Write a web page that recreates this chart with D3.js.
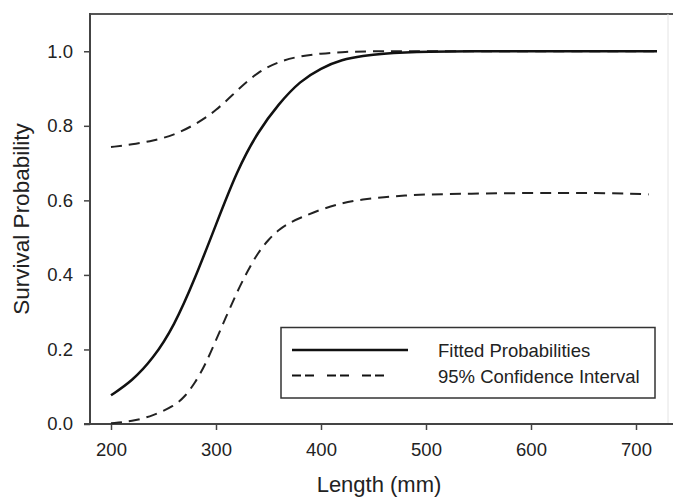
<!DOCTYPE html>
<html>
<head>
<meta charset="utf-8">
<script src="https://cdn.jsdelivr.net/npm/d3@7"></script>
<style>
  body { margin: 0; background: #fff; }
  svg { display: block; font-family: "Liberation Sans", Arial, sans-serif; }
</style>
</head>
<body>
<svg id="chart"></svg>
<script>
// lengths (mm) and read-off probabilities
let fitLength = [200, 220, 240, 260, 280, 300, 320, 340, 360, 380, 400, 420, 440, 460, 480, 500, 540, 600, 660, 720];
let fitProb   = [0.077, 0.115, 0.175, 0.262, 0.39, 0.535, 0.68, 0.785, 0.86, 0.92, 0.955, 0.978, 0.988, 0.994, 0.997, 0.999, 1.0, 1.0, 1.0, 1.0];

let upperLength = [200, 220, 240, 260, 280, 300, 320, 340, 360, 380, 400, 420, 440, 500, 600, 720];
let upperProb   = [0.743, 0.750, 0.760, 0.775, 0.803, 0.84, 0.895, 0.945, 0.973, 0.987, 0.994, 0.998, 1.0, 1.0, 1.0, 1.0];

let lowerLength = [200, 220, 240, 260, 270, 280, 290, 300, 310, 320, 330, 340, 350, 360, 370, 380, 400, 420, 440, 460, 480, 500, 540, 600, 650, 700, 712];
let lowerProb   = [0.002, 0.007, 0.022, 0.048, 0.072, 0.11, 0.16, 0.225, 0.29, 0.354, 0.41, 0.46, 0.495, 0.522, 0.54, 0.553, 0.576, 0.593, 0.603, 0.609, 0.613, 0.616, 0.618, 0.62, 0.62, 0.618, 0.616];

let xTicks = [200, 300, 400, 500, 600, 700];
let yTicks = [0, 0.2, 0.4, 0.6, 0.8, 1.0];

let legendItems = [
    { label: "Fitted Probabilities", dash: null },
    { label: "95% Confidence Interval", dash: "9,4,9,13" }
];

function toPoints(xs, ys) {
    return xs.map((x, i) => ({ x: x, y: ys[i] }));
}

function makeChart() {
    let w = 673;
    let h = 499;

    let svg = d3.select("#chart")
        .attr("width", w)
        .attr("height", h);

    let left = 90, right = 668, top = 14, bottom = 424;

    let xScale = d3.scaleLinear()
        .domain([200, 700])
        .range([111, 636]);

    let yScale = d3.scaleLinear()
        .domain([0, 1.1])
        .range([bottom, top]);

    // frame (top line runs to the edge, right side very faint)
    svg.append("line")
        .attr("x1", left).attr("x2", w)
        .attr("y1", top).attr("y2", top)
        .attr("stroke", "#555").attr("stroke-width", 2);
    svg.append("line")
        .attr("x1", right).attr("x2", right)
        .attr("y1", top).attr("y2", bottom)
        .attr("stroke", "#e4e4e4").attr("stroke-width", 1);

    // x axis
    let xAxis = d3.axisBottom(xScale)
        .tickValues(xTicks)
        .tickSize(6)
        .tickPadding(13)
        .tickFormat(d3.format("d"));
    let xg = svg.append("g")
        .attr("transform", `translate(0, ${bottom})`)
        .call(xAxis);
    xg.select(".domain").remove();
    xg.append("line")
        .attr("x1", 84).attr("x2", w)
        .attr("stroke", "#444").attr("stroke-width", 2);

    // y axis
    let yAxis = d3.axisLeft(yScale)
        .tickValues(yTicks)
        .tickSize(6)
        .tickPadding(11)
        .tickFormat(d3.format(".1f"));
    let yg = svg.append("g")
        .attr("transform", `translate(${left}, 0)`)
        .call(yAxis);
    yg.select(".domain").remove();
    yg.append("line")
        .attr("y1", top - 1).attr("y2", bottom)
        .attr("stroke", "#444").attr("stroke-width", 2);

    svg.selectAll(".tick line").attr("stroke", "#444").attr("stroke-width", 1.5);
    svg.selectAll(".tick text")
        .attr("fill", "#222")
        .style("font-size", "18.5px")
        .style("font-family", "'Liberation Sans', Arial, sans-serif");

    // curves
    let line = d3.line()
        .x(d => xScale(d.x))
        .y(d => yScale(d.y))
        .curve(d3.curveBasis);

    svg.append("path")
        .datum(toPoints(upperLength, upperProb))
        .attr("d", line)
        .attr("fill", "none")
        .attr("stroke", "#222")
        .attr("stroke-width", 2)
        .attr("stroke-dasharray", "11,7");

    svg.append("path")
        .datum(toPoints(lowerLength, lowerProb))
        .attr("d", line)
        .attr("fill", "none")
        .attr("stroke", "#222")
        .attr("stroke-width", 2)
        .attr("stroke-dasharray", "11,7");

    svg.append("path")
        .datum(toPoints(fitLength, fitProb))
        .attr("d", line)
        .attr("fill", "none")
        .attr("stroke", "#111")
        .attr("stroke-width", 2.5);

    // legend
    let lg = svg.append("g");
    lg.append("rect")
        .attr("x", 281).attr("y", 327.5)
        .attr("width", 374).attr("height", 70.5)
        .attr("fill", "#fff")
        .attr("stroke", "#333").attr("stroke-width", 1.5);

    legendItems.forEach((item, i) => {
        let y = 350 + i * 25.5;
        lg.append("line")
            .attr("x1", 292).attr("x2", item.dash ? 397 : 408)
            .attr("y1", y).attr("y2", y)
            .attr("stroke", "#111")
            .attr("stroke-width", item.dash ? 2 : 2.5)
            .attr("stroke-dasharray", item.dash);
        lg.append("text")
            .attr("x", 438)
            .attr("y", y + 7)
            .attr("fill", "#222")
            .style("font-size", "18.5px")
            .text(item.label);
    });

    // axis titles
    svg.append("text")
        .attr("x", (left + right) / 2)
        .attr("y", 492)
        .attr("text-anchor", "middle")
        .attr("fill", "#222")
        .style("font-size", "22px")
        .text("Length (mm)");

    svg.append("text")
        .attr("transform", `translate(29, ${(top + bottom) / 2}) rotate(-90)`)
        .attr("text-anchor", "middle")
        .attr("fill", "#222")
        .style("font-size", "22.5px")
        .text("Survival Probability");
}

makeChart();
</script>
</body>
</html>
